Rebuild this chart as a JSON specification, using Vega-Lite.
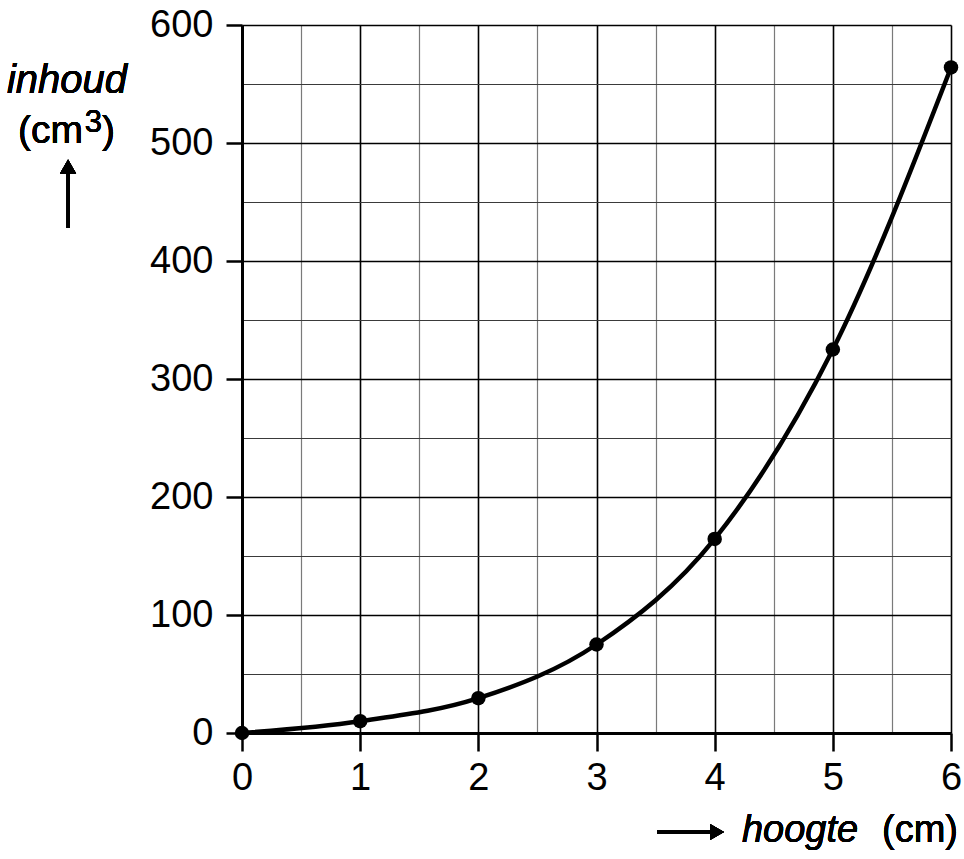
{
  "$schema": "https://vega.github.io/schema/vega-lite/v6.json",
  "autosize": "none",
  "width": 709,
  "height": 708,
  "padding": {"left": 242, "top": 25, "right": 13, "bottom": 126},
  "background": "white",
  "config": {
    "view": {"stroke": null},
    "font": "Liberation Sans",
    "text": {"font": "Liberation Sans", "color": "black"}
  },
  "data": {"values": [
    {"hoogte": 0, "inhoud": 0},
    {"hoogte": 1, "inhoud": 10},
    {"hoogte": 2, "inhoud": 29.5},
    {"hoogte": 3, "inhoud": 75},
    {"hoogte": 4, "inhoud": 164.5},
    {"hoogte": 5, "inhoud": 325},
    {"hoogte": 6, "inhoud": 564}
  ]},
  "layer": [
    {
      "mark": {"type": "line", "interpolate": "monotone", "color": "black", "strokeWidth": 4.5, "clip": false},
      "encoding": {
        "x": {"field": "hoogte", "type": "quantitative",
          "scale": {"domain": [0, 6], "nice": false},
          "axis": {
            "title": null,
            "values": [0, 0.5, 1, 1.5, 2, 2.5, 3, 3.5, 4, 4.5, 5, 5.5, 6],
            "labelExpr": "datum.value % 1 === 0 ? '' + datum.value : ''",
            "labelFontSize": 38, "labelFont": "Liberation Sans", "labelColor": "black",
            "labelPadding": 8, "labelFlush": false, "labelOverlap": false,
            "domainColor": "black", "domainWidth": 3,
            "tickColor": "black", "tickWidth": 2.5, "tickSize": 18,
            "tickOpacity": {"condition": {"test": "datum.value % 1 === 0", "value": 1}, "value": 0},
            "grid": true,
            "gridColor": {"condition": {"test": "datum.value % 1 === 0", "value": "black"}, "value": "#7a7a7a"},
            "gridWidth": {"condition": {"test": "datum.value % 1 === 0", "value": 1.6}, "value": 1.2},
            "gridOpacity": 1
          }},
        "y": {"field": "inhoud", "type": "quantitative",
          "scale": {"domain": [0, 600], "nice": false},
          "axis": {
            "title": null,
            "values": [0, 50, 100, 150, 200, 250, 300, 350, 400, 450, 500, 550, 600],
            "labelExpr": "datum.value % 100 === 0 ? '' + datum.value : ''",
            "labelFontSize": 38, "labelFont": "Liberation Sans", "labelColor": "black",
            "labelPadding": 13, "labelFlush": false, "labelOverlap": false,
            "domainColor": "black", "domainWidth": 3,
            "tickColor": "black", "tickWidth": 2.5, "tickSize": 16,
            "tickOpacity": {"condition": {"test": "datum.value % 100 === 0", "value": 1}, "value": 0},
            "grid": true,
            "gridColor": {"condition": {"test": "datum.value % 100 === 0", "value": "black"}, "value": "#3a3a3a"},
            "gridWidth": {"condition": {"test": "datum.value % 100 === 0", "value": 1.6}, "value": 1.1},
            "gridOpacity": 1
          }}
      }
    },
    {
      "mark": {"type": "point", "filled": true, "color": "black", "size": 210, "opacity": 1, "clip": false},
      "encoding": {
        "x": {"field": "hoogte", "type": "quantitative", "scale": {"domain": [0, 6], "nice": false}},
        "y": {"field": "inhoud", "type": "quantitative", "scale": {"domain": [0, 600], "nice": false}}
      }
    },
    {
      "mark": {"type": "text", "text": "inhoud", "fontSize": 40, "fontStyle": "italic", "align": "center", "baseline": "alphabetic", "clip": false},
      "encoding": {
        "x": {"datum": -1.481, "type": "quantitative", "scale": {"domain": [0, 6], "nice": false}},
        "y": {"datum": 542, "type": "quantitative", "scale": {"domain": [0, 600], "nice": false}}
      }
    },
    {
      "mark": {"type": "text", "text": "(cm", "fontSize": 39, "align": "left", "baseline": "alphabetic", "clip": false},
      "encoding": {
        "x": {"datum": -1.896, "type": "quantitative", "scale": {"domain": [0, 6], "nice": false}},
        "y": {"datum": 500, "type": "quantitative", "scale": {"domain": [0, 600], "nice": false}}
      }
    },
    {
      "mark": {"type": "text", "text": "3", "fontSize": 31, "align": "left", "baseline": "alphabetic", "clip": false},
      "encoding": {
        "x": {"datum": -1.33, "type": "quantitative", "scale": {"domain": [0, 6], "nice": false}},
        "y": {"datum": 509, "type": "quantitative", "scale": {"domain": [0, 600], "nice": false}}
      }
    },
    {
      "mark": {"type": "text", "text": ")", "fontSize": 39, "align": "left", "baseline": "alphabetic", "clip": false},
      "encoding": {
        "x": {"datum": -1.185, "type": "quantitative", "scale": {"domain": [0, 6], "nice": false}},
        "y": {"datum": 500, "type": "quantitative", "scale": {"domain": [0, 600], "nice": false}}
      }
    },
    {
      "mark": {"type": "rule", "color": "black", "strokeWidth": 3, "clip": false},
      "encoding": {
        "x": {"datum": -1.472, "type": "quantitative", "scale": {"domain": [0, 6], "nice": false}},
        "y": {"datum": 428, "type": "quantitative", "scale": {"domain": [0, 600], "nice": false}},
        "y2": {"datum": 475}
      }
    },
    {
      "mark": {"type": "point", "shape": "triangle-up", "filled": true, "color": "black", "size": 260, "opacity": 1, "clip": false},
      "encoding": {
        "x": {"datum": -1.472, "type": "quantitative", "scale": {"domain": [0, 6], "nice": false}},
        "y": {"datum": 480, "type": "quantitative", "scale": {"domain": [0, 600], "nice": false}}
      }
    },
    {
      "mark": {"type": "rule", "color": "black", "strokeWidth": 3, "clip": false},
      "encoding": {
        "x": {"datum": 3.512, "type": "quantitative", "scale": {"domain": [0, 6], "nice": false}},
        "x2": {"datum": 3.98},
        "y": {"datum": -83.9, "type": "quantitative", "scale": {"domain": [0, 600], "nice": false}}
      }
    },
    {
      "mark": {"type": "point", "shape": "triangle-right", "filled": true, "color": "black", "size": 260, "opacity": 1, "clip": false},
      "encoding": {
        "x": {"datum": 4.02, "type": "quantitative", "scale": {"domain": [0, 6], "nice": false}},
        "y": {"datum": -83.9, "type": "quantitative", "scale": {"domain": [0, 600], "nice": false}}
      }
    },
    {
      "mark": {"type": "text", "text": "hoogte", "fontSize": 38, "fontStyle": "italic", "align": "left", "baseline": "alphabetic", "clip": false},
      "encoding": {
        "x": {"datum": 4.231, "type": "quantitative", "scale": {"domain": [0, 6], "nice": false}},
        "y": {"datum": -92.4, "type": "quantitative", "scale": {"domain": [0, 600], "nice": false}}
      }
    },
    {
      "mark": {"type": "text", "text": "(cm)", "fontSize": 38, "align": "right", "baseline": "alphabetic", "clip": false},
      "encoding": {
        "x": {"datum": 6.059, "type": "quantitative", "scale": {"domain": [0, 6], "nice": false}},
        "y": {"datum": -92.4, "type": "quantitative", "scale": {"domain": [0, 600], "nice": false}}
      }
    }
  ]
}
